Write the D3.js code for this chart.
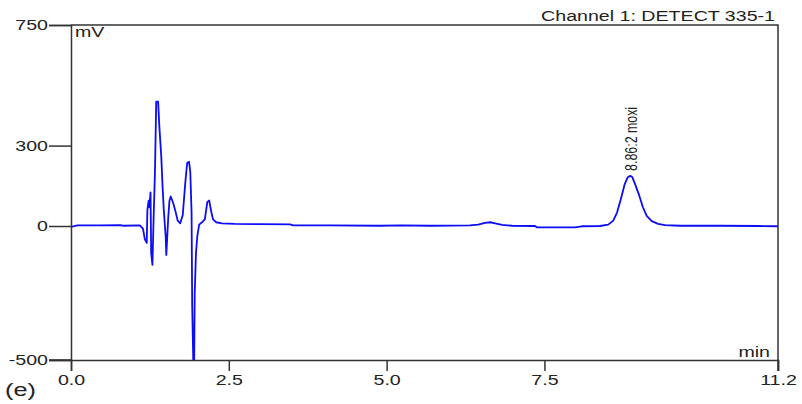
<!DOCTYPE html>
<html>
<head>
<meta charset="utf-8">
<script src="https://cdn.jsdelivr.net/npm/d3@7"></script>
<style>
  body { margin: 0; background: #fff; }
  svg text { font-family: "Liberation Sans", Arial, sans-serif; fill: #222; }
</style>
</head>
<body>
<script>
// retention time (min) and detector signal (mV)
const timeMin = [0.00, 0.10, 0.46, 0.78, 0.82, 1.09, 1.14, 1.17, 1.20, 1.21, 1.23, 1.24, 1.26, 1.27, 1.29, 1.31,
  1.33, 1.35, 1.38, 1.40, 1.43, 1.45, 1.47, 1.50, 1.51, 1.54, 1.56, 1.58, 1.62, 1.66, 1.69, 1.73,
  1.77, 1.81, 1.84, 1.87, 1.89, 1.91, 1.92, 1.94, 1.95, 1.96, 1.98, 2.00, 2.03, 2.08, 2.12, 2.16,
  2.19, 2.22, 2.25, 2.30, 2.39, 2.60, 3.00, 3.47, 3.52, 4.10, 4.90, 5.21, 5.69, 6.32, 6.45, 6.56,
  6.64, 6.72, 6.83, 6.99, 7.35, 7.38, 7.98, 8.09, 8.38, 8.51, 8.59, 8.65, 8.71, 8.77, 8.82, 8.86,
  8.89, 8.93, 9.00, 9.06, 9.12, 9.20, 9.30, 9.41, 9.65, 10.28, 10.91, 11.20];
const signalMV = [-3, 2, 2, 3, 1, 2, -10, -50, -63, 60, 95, 70, 125, -100, -145, 40,
  200, 464, 464, 370, 260, 150, 60, -40, -108, 30, 95, 110, 85, 50, 20, 10,
  40, 160, 235, 240, 200, 50, -300, -540, -540, -250, -100, -40, 5, 15, 25, 90,
  95, 55, 25, 14, 10, 8, 7, 6, 2, 2, 1, 2, 1, 2, 5, 12,
  14, 10, 4, 1, 0, -5, -5, -1, 0, 5, 20, 50, 100, 155, 182, 187,
  183, 160, 115, 70, 38, 18, 8, 3, 1, 1, 0, -1];

const yTicks = [750, 300, 0, -500];
const xTicks = [0.0, 2.5, 5.0, 7.5, 11.2];
const peakLabel = {time: 8.86, mv: 187, text: "8.86:2 moxi"};

const margin = {top: 25, right: 24, bottom: 44, left: 71};
const width = 802 - margin.left - margin.right;
const height = 404 - margin.top - margin.bottom;

// the original print is stretched sideways, so text is widened to match
const stretch = 1.4;
function widen(sel) {
  sel.each(function() {
    const w = this.getComputedTextLength();
    d3.select(this).attr("textLength", w * stretch).attr("lengthAdjust", "spacingAndGlyphs");
  });
}

const svg = d3.select("body").append("svg")
    .attr("width", 802)
    .attr("height", 404);

const g = svg.append("g")
    .attr("transform", "translate(" + margin.left + "," + margin.top + ")");

const x = d3.scaleLinear().domain([0, 11.2]).range([0, width]);
const y = d3.scaleLinear().domain([-500, 750]).range([height, 0]);

g.append("clipPath").attr("id", "plotClip")
  .append("rect").attr("width", width).attr("height", height);

// trace
const data = timeMin.map((t, i) => ({t: t, v: signalMV[i]}));
const line = d3.line().x(d => x(d.t)).y(d => y(d.v));

g.append("path")
    .datum(data)
    .attr("clip-path", "url(#plotClip)")
    .attr("fill", "none")
    .attr("stroke", "#0c0cf5")
    .attr("stroke-width", 1.8)
    .attr("stroke-linejoin", "round")
    .attr("d", line);

// frame (top + right)
g.append("path")
    .attr("d", "M0,0H" + width + "V" + (height + 11))
    .attr("fill", "none")
    .attr("stroke", "#333")
    .attr("stroke-width", 1.5);

// axes
const yAxis = d3.axisLeft(y).tickValues(yTicks).tickSize(22).tickPadding(1)
    .tickFormat(d => d);
const yG = g.append("g").call(yAxis);

const xAxis = d3.axisBottom(x).tickValues(xTicks).tickSize(11).tickPadding(4)
    .tickFormat(d3.format(".1f"));
const xG = g.append("g").attr("transform", "translate(0," + height + ")").call(xAxis);

[yG, xG].forEach(a => {
  a.select(".domain").attr("stroke", "#333").attr("stroke-width", 1.5);
  a.selectAll(".tick line").attr("stroke", "#333").attr("stroke-width", 1.5);
  a.selectAll(".tick text").style("font-size", "14px").attr("fill", "#222").call(widen);
});

// bottom axis line extends under the -500 tick
g.append("line")
    .attr("x1", -22).attr("x2", 0)
    .attr("y1", height).attr("y2", height)
    .attr("stroke", "#333").attr("stroke-width", 1.5);

// labels
g.append("text").attr("x", 4).attr("y", 12).style("font-size", "14px").text("mV").call(widen);
g.append("text").attr("x", width - 8).attr("y", height - 3)
    .attr("text-anchor", "end").style("font-size", "14px").text("min").call(widen);
svg.append("text").attr("x", 775).attr("y", 21)
    .attr("text-anchor", "end").style("font-size", "14px").text("Channel 1: DETECT 335-1").call(widen);
svg.append("text").attr("x", 5).attr("y", 396).style("font-size", "18px").text("(e)").call(widen);

// peak annotation
g.append("text")
    .attr("transform", "translate(" + (x(peakLabel.time) + 7) + "," + (y(peakLabel.mv) - 5) + ") rotate(-90)")
    .style("font-size", "17px")
    .attr("textLength", 64)
    .attr("lengthAdjust", "spacingAndGlyphs")
    .text(peakLabel.text);
</script>
</body>
</html>
